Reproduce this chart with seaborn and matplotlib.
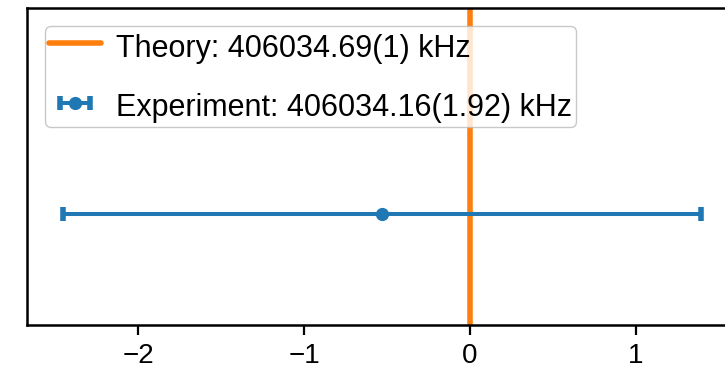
import matplotlib
matplotlib.use("Agg")
import matplotlib.pyplot as plt
import seaborn as sns

# Transition frequency values (kHz)
theory_value = 406034.69
theory_label_unc = "1"
exp_value = 406034.16
exp_unc = 1.92

series_labels = [
    f"Theory: {theory_value:.2f}({theory_label_unc}) kHz",
    f"Experiment: {exp_value:.2f}({exp_unc:.2f}) kHz",
]
x_ticks = [-2, -1, 0, 1]

sns.set_theme(style="ticks")
plt.rcParams["font.family"] = ["Liberation Sans", "DejaVu Sans"]
plt.rcParams["text.color"] = "black"
plt.rcParams["xtick.color"] = "black"
plt.rcParams["xtick.labelcolor"] = "black"

blue = "#1f77b4"
orange = "#ff7f0e"

fig = plt.figure(figsize=(7.25, 3.79), dpi=100)
ax = fig.add_axes([0.0372, 0.1425, 1.0, 0.8365])

offset = exp_value - theory_value

theory_line = ax.axvline(0.0, color=orange, lw=4.0, zorder=1)
exp_bar = ax.errorbar([offset], [0.0], xerr=[exp_unc], fmt="o", color=blue,
                      ms=8.5, lw=2.9, capsize=5.3, capthick=4.0, zorder=2)

ax.set_xlim(-2.67, 1.70)
ax.set_ylim(-0.35, 0.65)
ax.set_xticks(x_ticks)
ax.set_xticklabels([f"{t}".replace("-", "\u2212") for t in x_ticks])
ax.set_yticks([])

for side in ["left", "bottom", "top", "right"]:
    ax.spines[side].set_linewidth(1.8)
    ax.spines[side].set_color("black")
ax.tick_params(axis="x", length=7, width=1.6, labelsize=20, pad=6,
               colors="black", labelcolor="black")

leg = ax.legend([theory_line, exp_bar], series_labels, loc="upper left", fontsize=22,
                borderaxespad=0.6, borderpad=0.12, handlelength=1.7, handletextpad=0.5,
                handleheight=1.28, labelspacing=0.85, frameon=True, fancybox=True,
                edgecolor="#bbbbbb", framealpha=0.8)
for txt in leg.get_texts():
    txt.set_color("black")

fig.savefig("out.png", dpi=100)
